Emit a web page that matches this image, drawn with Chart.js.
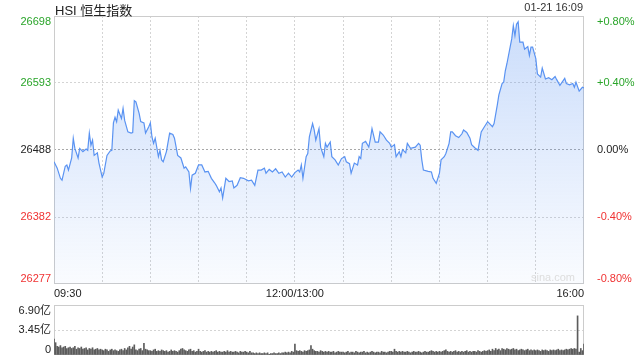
<!DOCTYPE html>
<html>
<head>
<meta charset="utf-8">
<script src="https://cdn.jsdelivr.net/npm/chart.js@4.4.1/dist/chart.umd.min.js"></script>
<style>
    body { margin: 0; width: 640px; height: 360px; background: #fff; position: relative; overflow: hidden;
           font-family: Arial, "Liberation Sans", "Noto Sans CJK SC", sans-serif; }
    #main { position: absolute; left: 0; top: 0; }
    #vol { position: absolute; left: 0; top: 300px; }
    .title { position: absolute; left: 55px; top: 0px; font-size: 13px; color: #222; }
    .stamp { position: absolute; right: 57px; top: 1px; font-size: 11px; color: #333; }
    .mark { position: absolute; left: 531px; top: 271px; font-size: 11px; color: #ddd; }
</style>
</head>
<body>
<canvas id="main" width="640" height="300"></canvas>
<canvas id="vol" width="640" height="60"></canvas>
<div class="title">HSI 恒生指数</div>
<div class="stamp">01-21 16:09</div>
<div class="mark">sina.com</div>
<script>
// minutes since 09:30 (lunch break removed, 330 = 16:00)
const priceMinutes = [
    0, 2, 4, 5, 7, 8, 9, 11, 12, 13, 15, 16, 18, 20, 21, 22, 23, 24, 25, 27, 28, 30, 31, 33, 35, 36, 37, 38, 39, 40,
    42, 43, 44, 46, 48, 49, 50, 51, 53, 54, 56, 57, 59, 60, 61, 62, 63, 65, 66, 67, 68, 70, 72, 74, 75, 77, 79, 81, 82, 84,
    85, 86, 88, 90, 92, 94, 96, 98, 100, 101, 103, 104, 105, 107, 109, 111, 112, 114, 116, 118, 121, 123, 125, 127, 129, 131, 132, 134, 136, 138,
    140, 142, 144, 146, 148, 150, 152, 153, 154, 155, 157, 158, 159, 161, 162, 163, 165, 166, 168, 169, 170, 172, 173, 175, 177, 179, 181, 182, 184, 185,
    187, 189, 190, 191, 192, 194, 196, 197, 198, 200, 202, 203, 205, 207, 209, 210, 212, 213, 215, 216, 217, 219, 220, 222, 225, 227, 228, 229, 230, 233,
    235, 236, 238, 240, 241, 243, 244, 246, 247, 248, 250, 252, 254, 255, 257, 259, 260, 262, 264, 266, 268, 270, 273, 274, 276, 277, 279, 280, 281, 282,
    284, 285, 286, 287, 288, 289, 290, 292, 293, 295, 296, 297, 298, 300, 301, 303, 304, 306, 308, 310, 312, 313, 315, 318, 319, 321, 323, 324, 325, 327,
    329, 330
];
const priceValues = [
    26469, 26459, 26443, 26440, 26462, 26464, 26456, 26475, 26506, 26490, 26475, 26490, 26485, 26489, 26487, 26514, 26495, 26503, 26479, 26483, 26467, 26445, 26451, 26479, 26486, 26487, 26530, 26539, 26532, 26550,
    26537, 26553, 26534, 26516, 26514, 26515, 26565, 26563, 26545, 26532, 26530, 26514, 26524, 26530, 26508, 26498, 26506, 26477, 26487, 26472, 26469, 26485, 26514, 26512, 26506, 26479, 26475, 26459, 26461, 26453,
    26427, 26448, 26451, 26464, 26464, 26453, 26454, 26443, 26436, 26432, 26422, 26428, 26412, 26443, 26438, 26439, 26428, 26432, 26444, 26443, 26439, 26440, 26432, 26456, 26456, 26459, 26451, 26457, 26453, 26458,
    26451, 26453, 26445, 26451, 26445, 26452, 26456, 26453, 26464, 26443, 26477, 26482, 26508, 26529, 26519, 26503, 26521, 26492, 26477, 26498, 26492, 26500, 26477, 26472, 26464, 26474, 26477, 26469, 26466, 26451,
    26467, 26464, 26477, 26474, 26498, 26501, 26492, 26505, 26521, 26500, 26500, 26516, 26511, 26503, 26498, 26492, 26496, 26477, 26485, 26477, 26488, 26483, 26498, 26490, 26492, 26498, 26495, 26472, 26456, 26454,
    26453, 26443, 26435, 26451, 26472, 26477, 26482, 26498, 26516, 26516, 26510, 26507, 26513, 26519, 26515, 26506, 26496, 26491, 26487, 26516, 26524, 26532, 26524, 26529, 26558, 26574, 26592, 26594, 26612, 26623,
    26649, 26662, 26683, 26667, 26685, 26689, 26657, 26657, 26646, 26650, 26636, 26649, 26649, 26631, 26607, 26602, 26616, 26599, 26601, 26598, 26603, 26598, 26589, 26600, 26592, 26590, 26592, 26586, 26594, 26580,
    26586, 26585
];
const priceTicks = [26277, 26382, 26488, 26593, 26698];
const pctLabels = ['-0.80%', '-0.40%', '0.00%', '+0.40%', '+0.80%'];
const timeTicks = [0, 30, 60, 90, 120, 150, 180, 210, 240, 270, 300, 330];
const timeLabels = { 0: '09:30', 150: '12:00/13:00', 330: '16:00' };

// volume per minute, in 亿
const volumes = [
    2.2, 1.7, 1.2, 1.1, 1.3, 1.0, 1.1, 1.2, 0.9, 1.0, 1.1, 0.9, 1.0, 1.2, 0.8, 1.0, 0.9, 1.1, 0.8, 0.9, 1.0, 0.7, 0.9, 0.8, 1.0, 0.7, 0.8, 0.9, 0.7, 0.8,
    0.7, 0.6, 0.8, 0.7, 0.5, 0.7, 0.8, 0.6, 0.7, 0.6, 0.5, 0.7, 0.8, 0.6, 0.9, 0.7, 1.0, 1.2, 0.8, 1.1, 1.4, 0.7, 0.6, 0.8, 0.9, 0.6, 1.6, 0.8, 0.7, 0.6,
    0.6, 0.5, 0.7, 0.8, 0.5, 0.6, 0.5, 0.7, 0.6, 0.5, 0.6, 0.4, 0.5, 0.7, 0.5, 0.6, 0.5, 0.4, 0.6, 0.8, 0.9, 0.7, 0.6, 0.5, 0.7, 0.8, 0.5, 0.6, 0.4, 0.5,
    0.8, 0.5, 0.4, 0.5, 0.6, 0.4, 0.5, 0.4, 0.5, 0.4, 0.5, 0.6, 0.4, 0.5, 0.4, 0.4, 0.5, 0.4, 0.6, 0.4, 0.5, 0.4, 0.4, 0.5, 0.4, 0.3, 0.5, 0.4, 0.4, 0.5,
    0.4, 0.3, 0.5, 0.3, 0.3, 0.2, 0.3, 0.2, 0.3, 0.2, 0.2, 0.3, 0.2, 0.3, 0.1, 0.2, 0.2, 0.3, 0.2, 0.2, 0.3, 0.2, 0.3, 0.3, 0.4, 0.3, 0.4, 0.3, 0.5, 0.4,
    1.5, 0.6, 0.5, 0.6, 0.5, 0.4, 0.6, 0.5, 0.6, 0.7, 1.3, 0.8, 0.6, 0.5, 0.5, 0.4, 0.6, 0.5, 0.4, 0.5, 0.4, 0.5, 0.4, 0.4, 0.5, 0.3, 0.4, 0.5, 0.4, 0.4,
    0.4, 0.3, 0.4, 0.5, 0.3, 0.4, 0.4, 0.3, 0.5, 0.4, 0.3, 0.4, 0.4, 0.5, 0.3, 0.4, 0.3, 0.4, 0.5, 0.4, 0.3, 0.4, 0.4, 0.3, 0.5, 0.4, 0.4, 0.3, 0.4, 0.5,
    0.5, 0.4, 0.8, 0.5, 0.4, 0.5, 0.4, 0.5, 0.4, 0.4, 0.5, 0.4, 0.3, 0.4, 0.5, 0.4, 0.4, 0.5, 0.4, 0.3, 0.4, 0.5, 0.4, 0.4, 0.5, 0.6, 0.5, 0.4, 0.5, 0.4,
    0.5, 0.4, 0.5, 0.6, 0.7, 0.5, 0.4, 0.5, 0.4, 0.5, 0.6, 0.4, 0.5, 0.4, 0.5, 0.4, 0.5, 0.6, 0.4, 0.5, 0.4, 0.5, 0.5, 0.4, 0.6, 0.5, 0.4, 0.5, 0.6, 0.5,
    0.6, 0.7, 0.5, 0.8, 0.6, 0.9, 0.7, 0.8, 0.6, 0.9, 0.8, 0.7, 0.9, 0.8, 0.7, 0.8, 0.9, 0.7, 0.8, 0.6, 0.7, 0.8, 0.7, 0.6, 0.7, 0.8, 0.6, 0.7, 0.6, 0.7,
    0.6, 0.7, 0.6, 0.5, 0.7, 0.6, 0.7, 0.6, 0.5, 0.7, 0.6, 0.7, 0.6, 0.7, 0.8, 0.6, 0.7, 0.6, 0.7, 0.8, 0.7, 0.8, 0.9, 0.8, 0.9, 0.8, 5.4, 0.4, 0.9, 0.6,
    1.5
];
const volTicks = [0, 3.45, 6.90];
const volLabels = ['0', '3.45亿', '6.90亿'];

const FONT = 'Arial, "Liberation Sans", "Noto Sans CJK SC", sans-serif';
const GREEN = '#2aa52a';
const RED = '#f03232';
const LINE = '#5a93f2';

// push the top label down and the bottom one up, like the original
function edgeLabel(text, index, count) {
    if (index === count - 1) return ['', text];
    if (index === 0) return [text, ''];
    return text;
}

function priceColor(ctx) {
    const i = ctx.index;
    if (i < 2) return RED;
    if (i > 2) return GREEN;
    return '#222';
}

// light box around the plot area
const framePlugin = {
    id: 'frame',
    beforeDatasetsDraw(chart) {
        const { ctx, chartArea: a } = chart;
        ctx.save();
        ctx.strokeStyle = '#cccccc';
        ctx.lineWidth = 1;
        ctx.strokeRect(Math.round(a.left) + 0.5, Math.round(a.top) + 0.5,
            Math.round(a.right - a.left) - 1, Math.round(a.bottom - a.top) - 1);
        ctx.restore();
    }
};

new Chart(document.getElementById('main'), {
    type: 'line',
    data: {
        datasets: [{
            data: priceMinutes.map((m, i) => ({ x: m, y: priceValues[i] })),
            borderColor: LINE,
            borderWidth: 1.2,
            pointRadius: 0,
            tension: 0,
            fill: 'start',
            backgroundColor(c) {
                const a = c.chart.chartArea;
                if (!a) return 'rgba(90,147,242,0.15)';
                const g = c.chart.ctx.createLinearGradient(0, a.top, 0, a.bottom);
                g.addColorStop(0, 'rgba(90,147,242,0.32)');
                g.addColorStop(1, 'rgba(90,147,242,0.03)');
                return g;
            }
        }]
    },
    options: {
        responsive: false,
        animation: false,
        layout: { padding: { top: 15 } },
        plugins: { legend: { display: false }, tooltip: { enabled: false } },
        scales: {
            x: {
                type: 'linear',
                min: 0,
                max: 330,
                afterBuildTicks: scale => { scale.ticks = timeTicks.map(v => ({ value: v })); },
                afterFit: scale => { scale.height = 16; },
                ticks: {
                    align: 'inner',
                    maxRotation: 0,
                    autoSkip: false,
                    padding: 3,
                    color: '#222',
                    font: { family: FONT, size: 11 },
                    callback: v => timeLabels[v] || ''
                },
                grid: {
                    drawTicks: false,
                    color: c => (c.tick && (c.tick.value === 0 || c.tick.value === 330)) ? 'rgba(0,0,0,0)' : '#d4d4d4'
                },
                border: { display: false, dash: [2, 2] }
            },
            y: {
                position: 'left',
                min: priceTicks[0],
                max: priceTicks[priceTicks.length - 1],
                afterBuildTicks: scale => { scale.ticks = priceTicks.map(v => ({ value: v })); },
                afterFit: scale => { scale.width = 54; },
                ticks: {
                    padding: 3,
                    autoSkip: false,
                    color: priceColor,
                    font: { family: FONT, size: 11, lineHeight: 1 },
                    callback: (v, i, t) => edgeLabel(String(priceTicks[i]), i, t.length)
                },
                grid: {
                    drawTicks: false,
                    color(c) {
                        if (!c.tick) return '#d4d4d4';
                        if (c.index === 0 || c.index === priceTicks.length - 1) return 'rgba(0,0,0,0)';
                        return c.index === 2 ? '#a8a8a8' : '#d4d4d4';
                    }
                },
                border: { display: false, dash: [2, 2] }
            },
            yr: {
                position: 'right',
                min: priceTicks[0],
                max: priceTicks[priceTicks.length - 1],
                afterBuildTicks: scale => { scale.ticks = priceTicks.map(v => ({ value: v })); },
                afterFit: scale => { scale.width = 56; },
                ticks: {
                    padding: 5,
                    autoSkip: false,
                    color: priceColor,
                    font: { family: FONT, size: 11, lineHeight: 1 },
                    callback: (v, i, t) => edgeLabel(pctLabels[i], i, t.length)
                },
                grid: { display: false },
                border: { display: false }
            }
        }
    },
    plugins: [framePlugin]
});

new Chart(document.getElementById('vol'), {
    type: 'bar',
    data: {
        datasets: [{
            data: volumes.map((v, i) => ({ x: i, y: v })),
            backgroundColor: '#5c5c5c',
            barThickness: 1
        }]
    },
    options: {
        responsive: false,
        animation: false,
        layout: { padding: { top: 5, bottom: 5, right: 56 } },
        plugins: { legend: { display: false }, tooltip: { enabled: false } },
        scales: {
            x: {
                type: 'linear',
                min: 0,
                max: 330,
                offset: false,
                display: false
            },
            y: {
                min: 0,
                max: volTicks[volTicks.length - 1],
                afterBuildTicks: scale => { scale.ticks = volTicks.map(v => ({ value: v })); },
                afterFit: scale => {
                    scale.width = 54;
                    scale.paddingTop = 0;
                    scale.paddingBottom = 0;
                },
                ticks: {
                    padding: 3,
                    autoSkip: false,
                    color: '#222',
                    font: { family: FONT, size: 11, lineHeight: 1 },
                    callback: (v, i, t) => edgeLabel(volLabels[i], i, t.length)
                },
                grid: {
                    drawTicks: false,
                    color: c => (c.tick && c.index === 1) ? '#d4d4d4' : 'rgba(0,0,0,0)'
                },
                border: { display: false, dash: [2, 2] }
            }
        }
    },
    plugins: [framePlugin]
});
</script>
</body>
</html>
